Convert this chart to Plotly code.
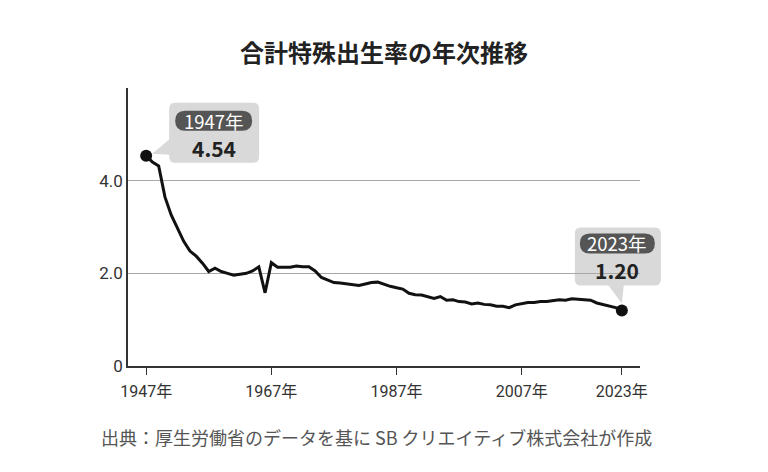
import plotly.graph_objects as go

years = list(range(1947, 2024))
tfr = [4.54, 4.40, 4.32, 3.65, 3.26, 2.98, 2.69, 2.48, 2.37, 2.22,
       2.04, 2.11, 2.04, 2.00, 1.96, 1.98, 2.00, 2.05, 2.14, 1.58,
       2.23, 2.13, 2.13, 2.13, 2.16, 2.14, 2.14, 2.05, 1.91, 1.85,
       1.80, 1.79, 1.77, 1.75, 1.74, 1.77, 1.80, 1.81, 1.76, 1.72,
       1.69, 1.66, 1.57, 1.54, 1.53, 1.50, 1.46, 1.50, 1.42, 1.43,
       1.39, 1.38, 1.34, 1.36, 1.33, 1.32, 1.29, 1.29, 1.26, 1.32,
       1.34, 1.37, 1.37, 1.39, 1.39, 1.41, 1.43, 1.42, 1.45, 1.44,
       1.43, 1.42, 1.36, 1.33, 1.30, 1.26, 1.20]

x_tickvals = [1947, 1967, 1987, 2007, 2023]
x_ticktext = ["1947年", "1967年", "1987年", "2007年", "2023年"]
y_tickvals = [0, 2, 4]
y_ticktext = ["0", "2.0", "4.0"]

title = "合計特殊出生率の年次推移"
source = "出典：厚生労働省のデータを基に SB クリエイティブ株式会社が作成"

FONT = "Noto Sans CJK JP"
TICKFONT = "Roboto, Noto Sans CJK JP"
XR = [1944.1, 2025.9]
YR = [0, 6]
W, H = 768, 472
ML, MR, MT, MB = 128, 128, 88, 106
PW, PH = W - ML - MR, H - MT - MB

fig = go.Figure()
fig.add_trace(go.Scatter(x=years, y=tfr, mode="lines",
                         line=dict(color="#111111", width=3),
                         hoverinfo="skip"))
ends_x = [years[0], years[-1]]
ends_y = [tfr[0], tfr[-1]]
fig.add_trace(go.Scatter(x=ends_x, y=ends_y, mode="markers",
                         marker=dict(color="#111111", size=12),
                         hoverinfo="skip", cliponaxis=False))


def to_paper(xv, yv):
    return ((xv - XR[0]) / (XR[1] - XR[0]), (yv - YR[0]) / (YR[1] - YR[0]))


def rrect(x0, y0, x1, y1, r):
    return (f"M {x0+r},{y0} L {x1-r},{y0} Q {x1},{y0} {x1},{y0+r} "
            f"L {x1},{y1-r} Q {x1},{y1} {x1-r},{y1} L {x0+r},{y1} "
            f"Q {x0},{y1} {x0},{y1-r} L {x0},{y0+r} Q {x0},{y0} {x0+r},{y0} Z")


def tri(pts):
    (a, b), (c, d), (e, f) = pts
    return f"M {a},{b} L {c},{d} L {e},{f} Z"


callouts = [
    dict(i=0, box=(23, -7, 113, 53), pill=(29, 25, 106, 45),
         tri=[(24, 17), (24, 1), (6, 2)]),
    dict(i=-1, box=(-47, 25, 39, 83), pill=(-42, 57, 33, 77),
         tri=[(-14, 26), (2, 26), (0, 7)]),
]

shapes = []
annotations = []
for c in callouts:
    xa, ya = years[c["i"]], tfr[c["i"]]
    pxa, pya = to_paper(xa, ya)
    common = dict(type="path", xref="paper", yref="paper", xsizemode="pixel",
                  ysizemode="pixel", xanchor=pxa, yanchor=pya,
                  line=dict(width=0), layer="between")
    bx0, by0, bx1, by1 = c["box"]
    shapes.append(dict(common, path=rrect(bx0, by0, bx1, by1, 6), fillcolor="#d9d9d9"))
    shapes.append(dict(common, path=tri(c["tri"]), fillcolor="#d9d9d9"))
    px0, py0, px1, py1 = c["pill"]
    shapes.append(dict(common, path=rrect(px0, py0, px1, py1, 10), fillcolor="#555555"))
    cx = (px0 + px1) / 2
    annotations.append(dict(x=pxa, y=pya, xref="paper", yref="paper", showarrow=False,
                            xanchor="center", yanchor="middle",
                            xshift=cx, yshift=(py0 + py1) / 2,
                            text=f"{xa}年",
                            font=dict(family=FONT, size=18.5, color="#ffffff")))
    annotations.append(dict(x=pxa, y=pya, xref="paper", yref="paper", showarrow=False,
                            xanchor="center", yanchor="middle",
                            xshift=cx, yshift=(by0 + py0) / 2 - 1,
                            text=f"<b>{ya:.2f}</b>",
                            font=dict(family=FONT, size=21, color="#222222")))

annotations.append(dict(x=0.5, y=1 + (MT - 52) / PH, xref="paper", yref="paper",
                        showarrow=False, text=f"<b>{title}</b>",
                        xanchor="center", yanchor="middle",
                        font=dict(family=FONT, size=24, color="#222222")))
annotations.append(dict(x=-29 / PW, y=-(437 - (H - MB)) / PH, xref="paper", yref="paper",
                        showarrow=False, xanchor="left", yanchor="middle",
                        text=source, font=dict(family=FONT, size=18, color="#555555")))

fig.update_layout(
    width=W, height=H,
    margin=dict(l=ML, r=MR, t=MT, b=MB),
    paper_bgcolor="white", plot_bgcolor="white",
    showlegend=False,
    shapes=shapes, annotations=annotations,
    font=dict(family=FONT),
    xaxis=dict(range=XR, tickvals=x_tickvals, ticktext=x_ticktext,
               showgrid=False, zeroline=False, showline=True, linecolor="#333333",
               linewidth=1.5, ticks="outside", ticklen=7, tickcolor="#333333",
               ticklabelstandoff=3,
               tickfont=dict(family=TICKFONT, size=16, color="#333333")),
    yaxis=dict(range=YR, tickvals=y_tickvals, ticktext=y_ticktext,
               showgrid=True, gridcolor="#a8a8a8", gridwidth=1, zeroline=False,
               showline=True, linecolor="#333333", linewidth=1.5, ticks="",
               tickfont=dict(family=TICKFONT, size=17, color="#333333")),
)

fig.write_html("out.html")
